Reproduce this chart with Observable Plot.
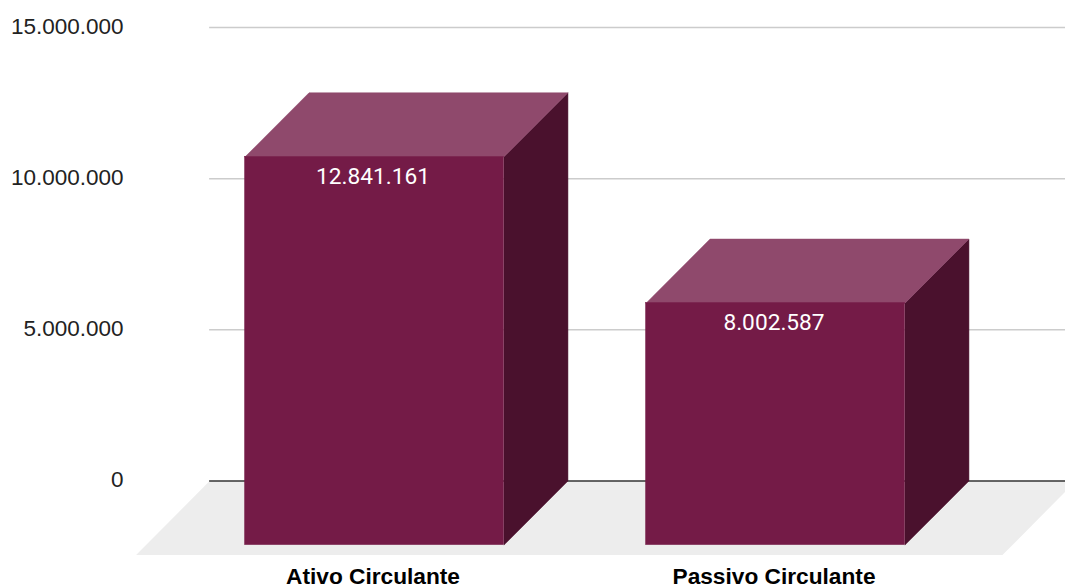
<!DOCTYPE html>
<html lang="pt">
<head>
<meta charset="utf-8">
<title>Ativo e Passivo Circulante</title>
<script src="https://cdn.jsdelivr.net/npm/d3@7"></script>
<script src="https://cdn.jsdelivr.net/npm/@observablehq/plot@0.6"></script>
<style>
  html, body { margin: 0; padding: 0; background: #fff; overflow: hidden; }
  svg { display: block; }
</style>
</head>
<body>
<div id="chart"></div>
<script>
// Current assets and liabilities
const categories = ["Ativo Circulante", "Passivo Circulante"];
const values = [12841161, 8002587];
const yTicks = [0, 5000000, 10000000, 15000000];

// Box geometry in data units: x is the category index, y is the currency value
const halfWidth = 0.3228;
const depthX = 0.1596;
const depthY = 2120000;
const floorDepthX = 0.1833;
const floorDepthY = 2450000;
const floorLeft = -0.4112;
const floorRight = 1.566;

const fmt = v => d3.format(",")(v).replace(/,/g, ".");

// Each face is a closed polygon in data coordinates
const bars = values.map((value, i) => ({
  i, value,
  left: i - halfWidth,
  right: i + halfWidth,
  base: -depthY,
  top: value - depthY
}));

const topFace = bars.flatMap(b => [
  {key: b.i, x: b.left, y: b.top},
  {key: b.i, x: b.left + depthX, y: b.value},
  {key: b.i, x: b.right + depthX, y: b.value},
  {key: b.i, x: b.right, y: b.top},
  {key: b.i, x: b.left, y: b.top}
]);
const sideFace = bars.flatMap(b => [
  {key: b.i, x: b.right, y: b.top},
  {key: b.i, x: b.right + depthX, y: b.value},
  {key: b.i, x: b.right + depthX, y: 0},
  {key: b.i, x: b.right, y: b.base},
  {key: b.i, x: b.right, y: b.top}
]);
const floor = [
  {x: floorLeft, y: 0},
  {x: floorRight + floorDepthX, y: 0},
  {x: floorRight, y: -floorDepthY},
  {x: floorLeft - floorDepthX, y: -floorDepthY}
];

// A thin stroke in the fill colour closes the hairline seams between faces
const polygon = (data, fill, strokeWidth = 0) =>
  Plot.line(data, {x: "x", y: "y", z: "key", fill, stroke: strokeWidth ? fill : "none", strokeWidth});

const chart = Plot.plot({
  width: 1065,
  height: 588,
  marginLeft: 123,
  marginRight: 0,
  marginTop: 27,
  marginBottom: 21,
  style: {background: "#fff", overflow: "hidden"},
  x: {type: "linear", domain: [-0.9327, 1.7232], range: [0, 1065], axis: null},
  y: {type: "linear", domain: [0, 15000000], range: [480.5, 27], axis: null},
  marks: [
    polygon(floor, "#ededed"),
    Plot.ruleY(yTicks.filter(d => d > 0), {x1: floorLeft, x2: 1.7232, stroke: "#cccccc", strokeWidth: 1.5}),
    Plot.ruleY([0], {x1: floorLeft, x2: 1.7232, stroke: "#333333", strokeWidth: 1.5}),
    polygon(sideFace, "#4a112d", 0.5),
    polygon(topFace, "#8f496c", 0.5),
    Plot.rect(bars, {x1: "left", x2: "right", y1: "base", y2: "top", fill: "#741b47", stroke: "#741b47", strokeWidth: 0.5}),
    Plot.text(bars, {
      x: "i", y: "top", text: d => fmt(d.value), dy: 20, dx: -1.5,
      fill: "#ffffff", fontSize: 22.7, fontFamily: "Roboto"
    }),
    Plot.axisY({
      ticks: yTicks, tickFormat: fmt, tickSize: 0, tickPadding: 0, label: null, dy: -1,
      fill: "#222222", fontSize: 22.5, fontFamily: "Liberation Sans"
    }),
    Plot.axisX({
      ticks: [0, 1], tickFormat: i => categories[i], tickSize: 0, tickPadding: 0, label: null, dx: -1.5,
      fill: "#000000", fontSize: 22.7, fontWeight: "bold", fontFamily: "Liberation Sans"
    })
  ]
});
document.getElementById("chart").append(chart);
</script>
</body>
</html>
